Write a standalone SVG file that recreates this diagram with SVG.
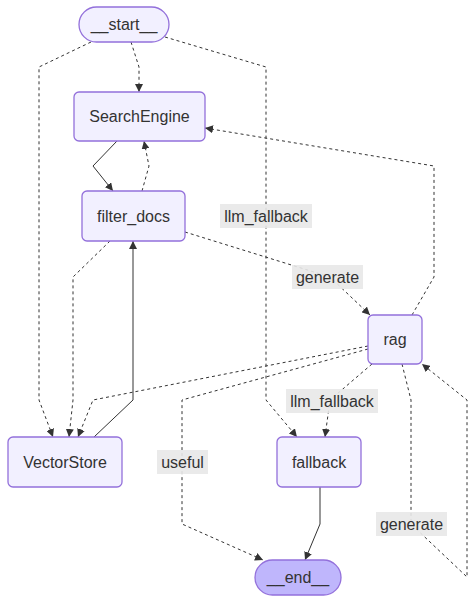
<svg xmlns="http://www.w3.org/2000/svg" width="476" height="603" viewBox="0 0 476 603">
<style>
.node rect{fill:#f2f0ff;stroke:#9370db;stroke-width:1.3}
.node.end rect{fill:#bfb6fc}
text{font-family:"Liberation Sans",Arial,sans-serif;font-size:16px;fill:#333;text-anchor:middle;dominant-baseline:central}
.e{fill:none;stroke:#333;stroke-width:1;marker-end:url(#arr)}
.d{stroke-dasharray:3 3}
.lbl rect{fill:#e8e8e8;opacity:0.9}
</style>
<defs>
<marker id="arr" viewBox="0 0 10 10" refX="10" refY="5" markerWidth="8" markerHeight="8" markerUnits="userSpaceOnUse" orient="auto">
<path d="M0,0 L10,5 L0,10 z" fill="#333"/>
</marker>
</defs>
<rect width="476" height="603" fill="#fff"/>
<g id="edges">
<polyline class="e d" points="131,42 139,67 139,92"/>
<polyline class="e d" points="91,42 39,67 39,400 53,437"/>
<polyline class="e d" points="165,37 266,67 266,400 297,437"/>
<polyline class="e" points="117,141 93,166 113,191"/>
<polyline class="e d" points="142,191 149,166 144,141"/>
<polyline class="e d" points="110,241 73,277 73,400 69,437"/>
<polyline class="e" points="94,437 133,400 133,241"/>
<polyline class="e d" points="185,232 330,277 370,315"/>
<polyline class="e d" points="412,315 434,277 434,166 205,128"/>
<polyline class="e d" points="368,346 93,400 78,437"/>
<polyline class="e d" points="368,349 182,400 182,524 263,560"/>
<polyline class="e d" points="372,364 330,400 325,437"/>
<polyline class="e" points="320,487 320,524 305,560"/>
<polyline class="e d" points="402,364 411,400 411,524 467,577 467,400 422,364"/>
</g>
<g id="edge-labels">
<g class="lbl"><rect x="220" y="204" width="92" height="24"/><text x="266" y="216">llm_fallback</text></g>
<g class="lbl"><rect x="292" y="265" width="71" height="24"/><text x="327.5" y="277">generate</text></g>
<g class="lbl"><rect x="286" y="389" width="92" height="24"/><text x="332" y="401">llm_fallback</text></g>
<g class="lbl"><rect x="157" y="450" width="51" height="24"/><text x="182.5" y="462">useful</text></g>
<g class="lbl"><rect x="376" y="512" width="71" height="24"/><text x="411.5" y="524">generate</text></g>
</g>
<g id="start" class="node"><rect x="79" y="7" width="90" height="35" rx="17.5"/><text x="124" y="24.5">__start__</text></g>
<g id="SearchEngine" class="node"><rect x="74" y="92" width="131" height="49" rx="5"/><text x="139.5" y="116.5">SearchEngine</text></g>
<g id="filter_docs" class="node"><rect x="82" y="191" width="103" height="50" rx="5"/><text x="133.5" y="216">filter_docs</text></g>
<g id="rag" class="node"><rect x="368" y="315" width="54" height="49" rx="5"/><text x="395" y="339.5">rag</text></g>
<g id="VectorStore" class="node"><rect x="8" y="437" width="114" height="50" rx="5"/><text x="65" y="462">VectorStore</text></g>
<g id="fallback" class="node"><rect x="277" y="437" width="84" height="50" rx="5"/><text x="319" y="462">fallback</text></g>
<g id="end" class="node end"><rect x="255" y="560" width="86" height="35" rx="17.5"/><text x="298" y="577.5">__end__</text></g>
</svg>
